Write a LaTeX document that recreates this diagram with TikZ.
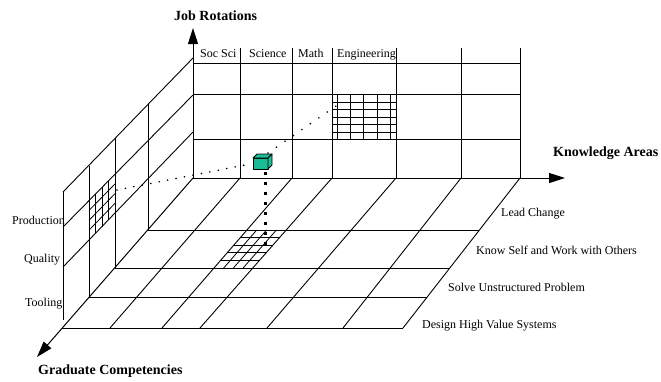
\documentclass[tikz,border=0pt]{standalone}
\usepackage{fontspec}
\setmainfont{Liberation Serif}
\usetikzlibrary{arrows.meta,calc}
\definecolor{cubeteal}{RGB}{26,188,150}
\begin{document}
\begin{tikzpicture}[x=1pt,y=-1pt,
  gridline/.style={line width=0.9pt},
  fine/.style={line width=0.8pt},
  axis/.style={line width=1pt,-{Triangle[length=16pt,width=10pt]}},
  lbl/.style={inner sep=0pt,anchor=base west,font=\fontsize{12}{14}\selectfont},
  axtitle/.style={inner sep=0pt,anchor=base west,font=\fontsize{14}{16}\selectfont\bfseries},
  smalldots/.style={line width=1.8pt,line cap=round,dash pattern=on 0pt off 8.6pt},
  widedots/.style={line width=1.8pt,line cap=round,dash pattern=on 0pt off 10.3pt},
  sqdots/.style={line width=3pt,dash pattern=on 3pt off 7pt}]
\useasboundingbox (0,0) rectangle (661,381);

% axes
\coordinate (O) at (193,178);
\coordinate (JR) at (193,28);
\coordinate (KA) at (565,178);
\coordinate (GC) at (37,357);

% back wall: knowledge areas x job rotations
\foreach \y in {63,94,139} \draw[gridline] (193,\y) -- (520,\y);
\foreach \x in {240,292,332,396,461,520} \draw[gridline] (\x,48) -- (\x,178);

% side wall: job rotations x competencies
\draw[gridline] (193,58) -- (63,192);
\draw[gridline] (193,95) -- (63,227);
\draw[gridline] (193,132) -- (63,267);
\draw[gridline] (148,104.4) -- (148,229.6);
\draw[gridline] (115,138.4) -- (115,267.5);
\draw[gridline] (89,166) -- (89,297.3);
\draw[gridline] (63,192) -- (63,320);

% floor: knowledge areas x competencies
\draw[gridline] (148,230) -- (479,230);
\draw[gridline] (115,268) -- (450,268);
\draw[gridline] (89,297) -- (427,297);
\draw[gridline] (62.3,328) -- (403,328);
\draw[gridline] (240,178) -- (110,328);
\draw[gridline] (292,178) -- (162,328);
\draw[gridline] (332,178) -- (200,328);
\draw[gridline] (396,178) -- (267,328);
\draw[gridline] (461,178) -- (343,328);
\draw[gridline] (520,178) -- (403,328);

% fine grid on the back wall
\foreach \x in {337,350,363,377,390} \draw[fine] (\x,94) -- (\x,139);
\foreach \y in {102,109.5,117,124.5,132} \draw[fine] (332,\y) -- (396,\y);

% fine grid on the floor
\coordinate (fa) at (246.9,230);
\coordinate (fb) at (286.2,230);
\coordinate (fc) at (214,268);
\coordinate (fd) at (252.8,268);
\foreach \t in {0.25,0.5,0.75} \draw[fine] ($(fa)!\t!(fb)$) -- ($(fc)!\t!(fd)$);
\foreach \t in {0.2,0.4,0.6,0.8} \draw[fine] ($(fa)!\t!(fc)$) -- ($(fb)!\t!(fd)$);

% fine grid on the side wall
\coordinate (sa) at (115,174.2);
\coordinate (sb) at (89,200.6);
\coordinate (sc) at (115,213);
\coordinate (sd) at (89,240);
\foreach \t in {0.25,0.5,0.75} \draw[fine] ($(sa)!\t!(sb)$) -- ($(sc)!\t!(sd)$);
\foreach \t in {0.25,0.5,0.75} \draw[fine] ($(sa)!\t!(sc)$) -- ($(sb)!\t!(sd)$);

% axes with arrows
\draw[axis] (O) -- (JR);
\draw[axis] (O) -- (KA);
\draw[axis] (O) -- (GC);

% projections of the cube onto the three planes
\coordinate (sg) at (117,190);
\coordinate (cubeL) at (250,164);
\coordinate (cubeR) at (268,153);
\coordinate (bg) at (336,106);
\coordinate (cubeB) at (265,171.5);
\coordinate (fg) at (265,245);
\draw[smalldots] (sg) -- (cubeL);
\draw[widedots] (cubeR) -- (bg);
\draw[sqdots] (cubeB) -- (fg);

% the cube
\begin{scope}[fill=cubeteal,draw=black,line width=0.8pt,line join=round]
  \filldraw (253,158) rectangle (268,169);
  \filldraw (253,158) -- (257,154) -- (272,154) -- (268,158) -- cycle;
  \filldraw (268,158) -- (272,154) -- (272,165) -- (268,169) -- cycle;
\end{scope}

% axis titles
\node[axtitle] (tJR) at (174,20) {Job Rotations};
\node[axtitle] (tKA) at (553,156) {Knowledge Areas};
\node[axtitle] (tGC) at (38,374) {Graduate Competencies};

% knowledge areas
\node[lbl] (kSoc) at (200,57.5) {Soc Sci};
\node[lbl] (kSci) at (249,57.5) {Science};
\node[lbl] (kMath) at (298,57.5) {Math};
\node[lbl] (kEng) at (337,57.5) {Engineering};

% job rotations
\node[lbl] (jProd) at (12,224) {Production};
\node[lbl] (jQual) at (24,262) {Quality};
\node[lbl] (jTool) at (25,306) {Tooling};

% graduate competencies
\node[lbl] (gLead) at (501,216) {Lead Change};
\node[lbl] (gKnow) at (476,254) {Know Self and Work with Others};
\node[lbl] (gSolve) at (448,291) {Solve Unstructured Problem};
\node[lbl] (gDesign) at (422,328) {Design High Value Systems};
\end{tikzpicture}
\end{document}
